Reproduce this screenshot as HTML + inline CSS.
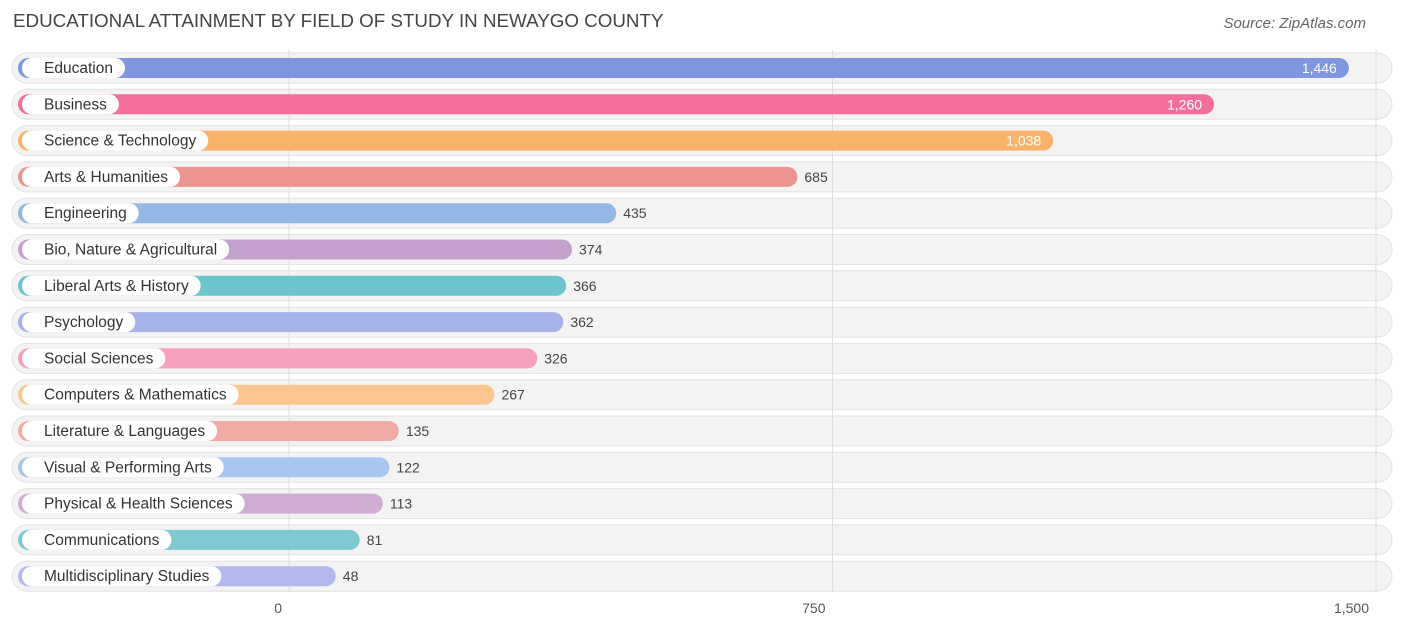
<!DOCTYPE html>
<html><head><meta charset="utf-8"><style>
body{margin:0;background:#fff;font-family:"Liberation Sans",sans-serif;}
#c{position:relative;width:1406px;height:631px;overflow:hidden}
.t{position:absolute;left:13px;top:10px;font-size:18.8px;color:#444}
.s{position:absolute;right:40px;top:15px;font-size:15px;color:#666;font-style:italic}
</style></head><body>
<div id="c">
<div class="t">EDUCATIONAL ATTAINMENT BY FIELD OF STUDY IN NEWAYGO COUNTY</div>
<div class="s">Source: ZipAtlas.com</div>
<svg id="svg" width="1406" height="631" style="position:absolute;left:0;top:0"></svg>
</div>
<script>
const categories=["Education","Business","Science & Technology","Arts & Humanities","Engineering","Bio, Nature & Agricultural","Liberal Arts & History","Psychology","Social Sciences","Computers & Mathematics","Literature & Languages","Visual & Performing Arts","Physical & Health Sciences","Communications","Multidisciplinary Studies"];
const values=[1446,1260,1038,685,435,374,366,362,326,267,135,122,113,81,48];
const valueLabels=["1,446","1,260","1,038","685","435","374","366","362","326","267","135","122","113","81","48"];
const ticks=[0,750,1500];
const tickLabels=["0","750","1,500"];
const colors=["#7f96e0","#f46e9c","#f9b36b","#ec948f","#93b8e6","#c4a1cc","#6cc4cc","#a8b2ea","#f6a0bb","#fbc58f","#f2aaa5","#a8c6ee","#cfadd3","#7dcad2","#b3b9ee"];
const NS="http://www.w3.org/2000/svg",svg=document.getElementById('svg');
const k=(1376-289)/1500;
const gx=v=>289+v*k, bx=v=>301+v*k, ry=i=>68+i*36.3;
function mk(t,a){const e=document.createElementNS(NS,t);for(const n in a)e.setAttribute(n,a[n]);svg.appendChild(e);return e;}
categories.forEach((c,i)=>{
 const r=mk('rect',{x:12,y:ry(i)-15,width:1380,height:30,rx:15,fill:'#f3f3f3',stroke:'#e2e2e2'});
 
 
});
ticks.forEach((t,i)=>{
 const l=mk('line',{x1:gx(t),x2:gx(t),y1:50,y2:592,stroke:'#ddd'});
 
 
 const tx=mk('text',{x:gx(t)-7,y:613,'text-anchor':'end','font-size':14,fill:'#555'});
 tx.textContent=tickLabels[i];
 
 
});
categories.forEach((c,i)=>{
 const y=ry(i),end=bx(values[i]);
 const b=mk('rect',{x:18,y:y-10,width:end-18,height:20,rx:10,fill:colors[i]});
 
 
 const p=mk('rect',{x:22,y:y-10,width:100,height:20,rx:10,fill:'#fff'});
 
 
 const lt=mk('text',{x:44,y:y+5,'font-size':15.5,fill:'#333'});
 lt.textContent=c;
 
 
 p.setAttribute('width',lt.getComputedTextLength()+34);
 const inside=values[i]>900;
 const vt=mk('text',{x:inside?end-12:end+7,y:y+5,'font-size':14,fill:inside?'#fff':'#444','text-anchor':inside?'end':'start'});
 vt.textContent=valueLabels[i];
 
 
});
</script>
</body></html>
